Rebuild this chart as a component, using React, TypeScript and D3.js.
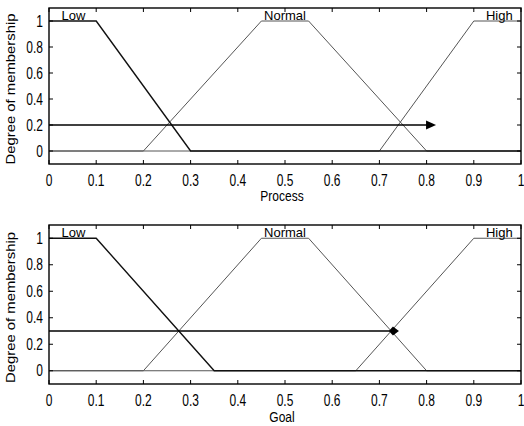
import React from 'react';
import * as d3 from 'd3';

// membership functions, [x, degree] pairs over the universe 0..1
const processLow = [[0, 1], [0.1, 1], [0.3, 0], [1, 0]];
const processNormal = [[0, 0], [0.2, 0], [0.45, 1], [0.55, 1], [0.8, 0], [1, 0]];
const processHigh = [[0, 0], [0.7, 0], [0.9, 1], [1, 1]];

const goalLow = [[0, 1], [0.1, 1], [0.35, 0], [1, 0]];
const goalNormal = [[0, 0], [0.2, 0], [0.45, 1], [0.55, 1], [0.8, 0], [1, 0]];
const goalHigh = [[0, 0], [0.65, 0], [0.9, 1], [1, 1]];

const mfNames = ['Low', 'Normal', 'High'];
const mfLabelX = [0.052, 0.5, 0.954];

// input arrows: level reached and end of arrow
const processArrow = { level: 0.2, end: 0.82 };
const goalArrow = { level: 0.3, end: 0.735 };

const xTicks = [0, 0.1, 0.2, 0.3, 0.4, 0.5, 0.6, 0.7, 0.8, 0.9, 1];
const yTicks = [0, 0.2, 0.4, 0.6, 0.8, 1];

const left = 49, right = 521;
const font = 'Liberation Sans, Arial, sans-serif';
const stretch = 1.3; // scanned figure is taller than wide

type Props = {
  top: number;
  bottom: number;
  mfs: number[][][];
  arrow: { level: number; end: number };
  xLabel: string;
  xLabelDy: number;
  head: 'arrow' | 'diamond';
};

function Panel({ top, bottom, mfs, arrow, xLabel, xLabelDy, head }: Props) {
  const x = d3.scaleLinear().domain([0, 1]).range([left, right]);
  const y = d3.scaleLinear().domain([-0.1, 1.1]).range([bottom, top]);
  const line = d3.line<number[]>().x(d => x(d[0])).y(d => y(d[1]));
  const colors = ['#111', '#555', '#555'];
  const widths = [1.4, 1, 1];
  const order = [1, 2, 0];
  const ay = y(arrow.level);
  const ax = x(arrow.end);
  const tl = 4;
  const fmt = d3.format('~g');

  return (
    <g>
      {order.map(i => (
        <path key={i} d={line(mfs[i]) || ''} fill="none" stroke={colors[i]} strokeWidth={widths[i]} />
      ))}
      <line x1={x(0)} y1={ay} x2={head === 'arrow' ? ax - 8 : ax - 6} y2={ay} stroke="#000" strokeWidth={1.6} />
      {head === 'arrow' ? (
        <path d={`M${ax - 10},${ay - 4.5} L${ax},${ay} L${ax - 10},${ay + 4.5} Z`} fill="#000" />
      ) : (
        <path d={`M${ax - 7},${ay} L${ax - 3},${ay - 4.5} L${ax + 3},${ay} L${ax - 3},${ay + 4.5} Z`} fill="#000" />
      )}
      {mfNames.map((n, i) => (
        <text key={n} x={x(mfLabelX[i])} y={y(1) - 1} textAnchor="middle" fontFamily={font} fontSize={13} fill="#000">
          {n}
        </text>
      ))}
      <rect x={left} y={top} width={right - left} height={bottom - top} fill="none" stroke="#000" strokeWidth={1.4} />
      {xTicks.map(t => (
        <g key={'x' + t}>
          <line x1={x(t)} x2={x(t)} y1={bottom} y2={bottom - tl} stroke="#000" />
          <line x1={x(t)} x2={x(t)} y1={top} y2={top + tl} stroke="#000" />
          <text
            transform={`translate(${x(t)},${bottom + 22}) scale(1,${stretch})`}
            textAnchor="middle"
            fontFamily={font}
            fontSize={12}
            fill="#000"
          >
            {fmt(t)}
          </text>
        </g>
      ))}
      {yTicks.map(t => (
        <g key={'y' + t}>
          <line x1={left} x2={left + tl} y1={y(t)} y2={y(t)} stroke="#000" />
          <line x1={right} x2={right - tl} y1={y(t)} y2={y(t)} stroke="#000" />
          <text
            transform={`translate(${left - 6},${y(t) + 5.5}) scale(1,${stretch})`}
            textAnchor="end"
            fontFamily={font}
            fontSize={12}
            fill="#000"
          >
            {fmt(t)}
          </text>
        </g>
      ))}
      <text
        transform={`translate(282,${bottom + xLabelDy}) scale(1,1.15)`}
        textAnchor="middle"
        fontFamily={font}
        fontSize={12}
        fill="#000"
      >
        {xLabel}
      </text>
      <text
        transform={`translate(14.5,${(top + bottom) / 2 + 3}) scale(1,1.24) rotate(-90)`}
        textAnchor="middle"
        fontFamily={font}
        fontSize={12}
        fill="#000"
      >
        Degree of membership
      </text>
    </g>
  );
}

export default function App() {
  return (
    <svg width={524} height={426} style={{ position: 'absolute', left: 0, top: 0, background: '#fff' }}>
      <rect width={524} height={426} fill="#fff" />
      <Panel
        top={8}
        bottom={164}
        mfs={[processLow, processNormal, processHigh]}
        arrow={processArrow}
        xLabel="Process"
        xLabelDy={37}
        head="arrow"
      />
      <Panel
        top={225}
        bottom={384}
        mfs={[goalLow, goalNormal, goalHigh]}
        arrow={goalArrow}
        xLabel="Goal"
        xLabelDy={38}
        head="diamond"
      />
    </svg>
  );
}
